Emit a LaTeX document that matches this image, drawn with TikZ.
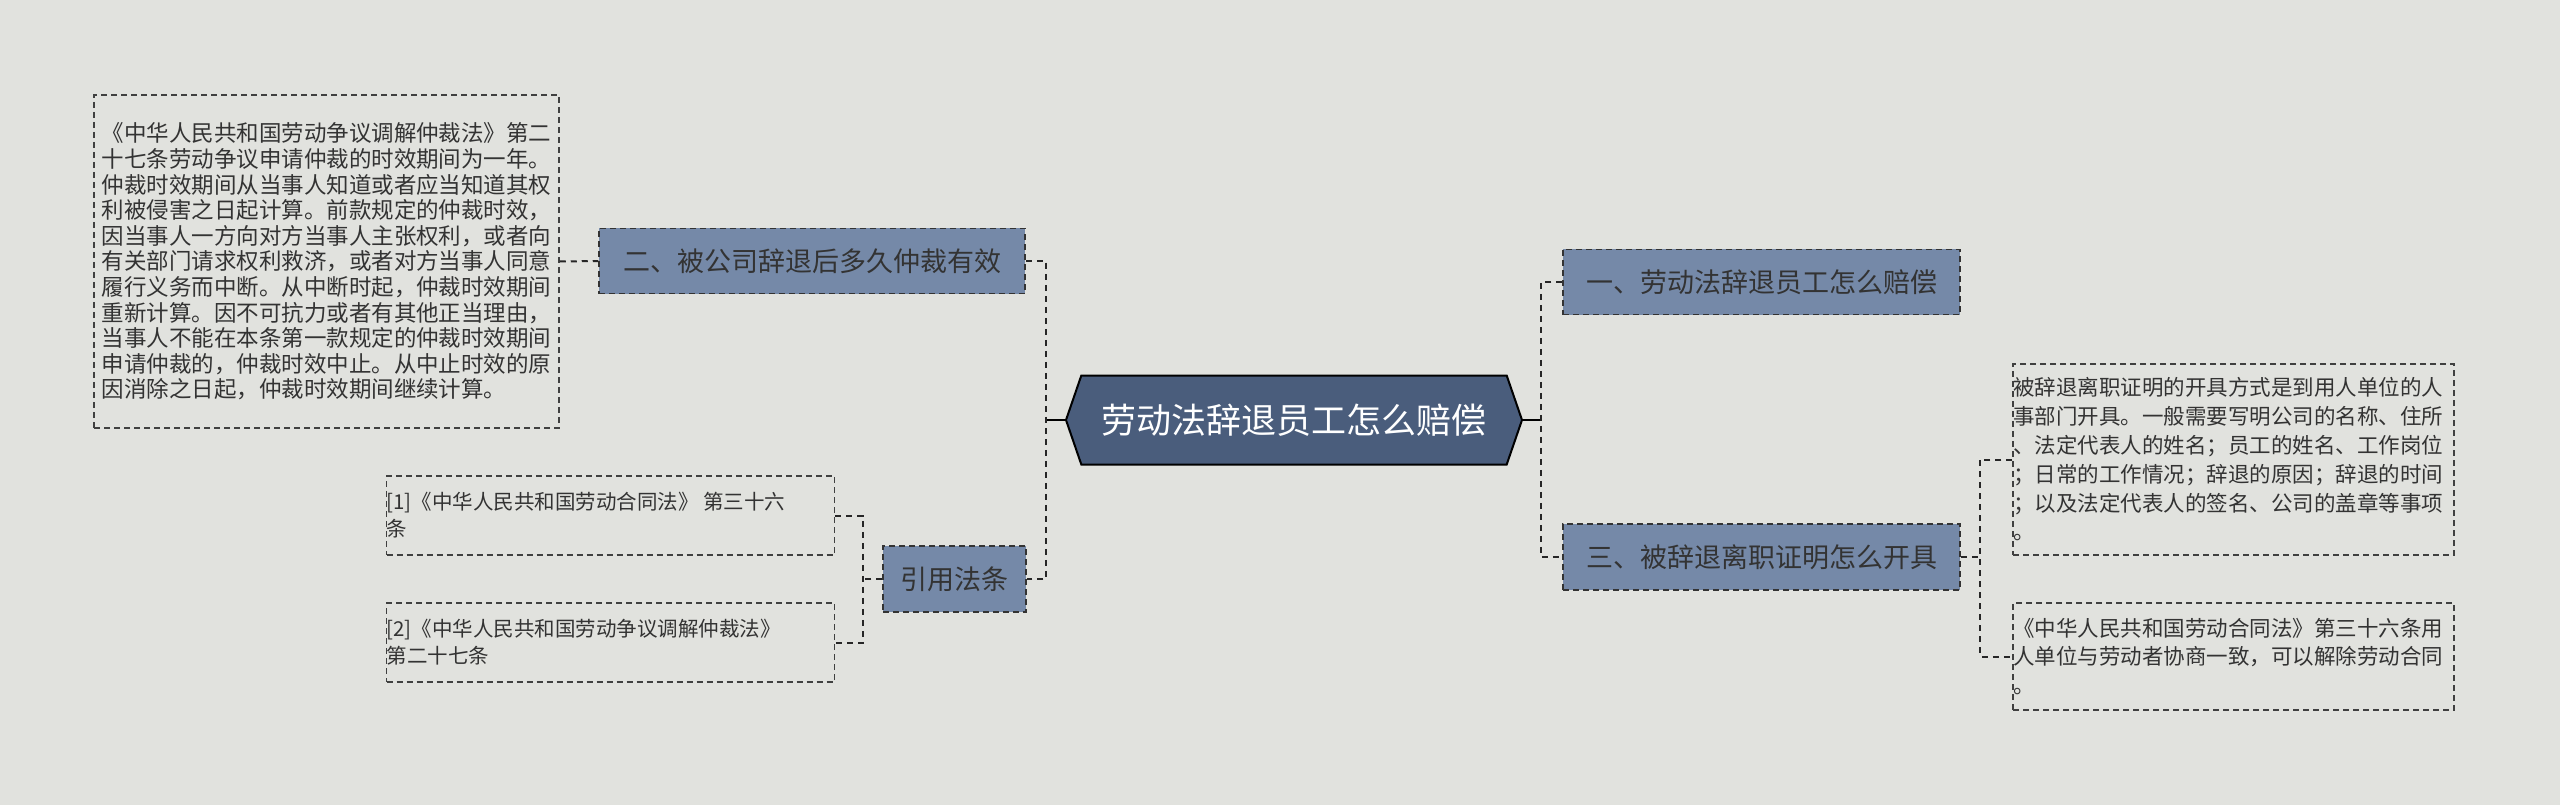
\documentclass[tikz,border=0pt]{standalone}
\usepackage{fontspec}
\setmainfont{Noto Sans CJK SC}
\usetikzlibrary{shapes.symbols}
\definecolor{bg}{HTML}{E1E2DE}
\definecolor{cfill}{HTML}{4A5D7C}
\definecolor{nfill}{HTML}{7589A8}
\definecolor{tcol}{HTML}{333333}
\tikzset{
  conn/.style={draw=black!85,line width=2pt,dash pattern=on 6pt off 5pt},
  topic/.style={draw=black!80,fill=nfill,line width=1.5pt,dash pattern=on 6pt off 4pt,inner sep=0pt,text=tcol,font=\fontsize{27}{32}\selectfont},
  leaf/.style={draw=black!75,line width=1.5pt,dash pattern=on 6pt off 4pt,inner sep=0pt,text=tcol,align=left},
}
\begin{document}
\begin{tikzpicture}[x=1pt,y=-1pt]
\fill[bg] (0,0) rectangle (2560,805);
\useasboundingbox (0,0) rectangle (2560,805);
% center
\node[signal,signal to=west and east,signal pointer angle=142,draw=black,line width=2pt,fill=cfill,text=white,minimum width=456pt,minimum height=89pt,inner sep=0pt,outer sep=0pt,font=\fontsize{35}{40}\selectfont] (c) at (1294,420) {劳动法辞退员工怎么赔偿};
% left topics
\node[topic,minimum width=426pt,minimum height=65pt] (l1) at (812,261) {二、被公司辞退后多久仲裁有效};
\node[topic,minimum width=143pt,minimum height=66pt] (l2) at (954.5,579) {引用法条};
% right topics
\node[topic,minimum width=397pt,minimum height=65pt] (r1) at (1761.5,282) {一、劳动法辞退员工怎么赔偿};
\node[topic,minimum width=397pt,minimum height=66pt] (r3) at (1761.5,557) {三、被辞退离职证明怎么开具};
% leaves
\node[leaf,minimum width=465pt,minimum height=333pt,font=\fontsize{22.5}{25.6}\selectfont] (t1) at (326.5,261.5) {《中华人民共和国劳动争议调解仲裁法》第二\\十七条劳动争议申请仲裁的时效期间为一年。\\仲裁时效期间从当事人知道或者应当知道其权\\利被侵害之日起计算。前款规定的仲裁时效，\\因当事人一方向对方当事人主张权利，或者向\\有关部门请求权利救济，或者对方当事人同意\\履行义务而中断。从中断时起，仲裁时效期间\\重新计算。因不可抗力或者有其他正当理由，\\当事人不能在本条第一款规定的仲裁时效期间\\申请仲裁的，仲裁时效中止。从中止时效的原\\因消除之日起，仲裁时效期间继续计算。};
\node[leaf,minimum height=79pt,font=\fontsize{20.5}{27}\selectfont] (a1) at (610.5,515.5) {\parbox{448pt}{\raggedright [1]《中华人民共和国劳动合同法》 第三十六\\条}};
\node[leaf,minimum height=79pt,font=\fontsize{20.5}{27}\selectfont] (a2) at (610.5,642.5) {\parbox{448pt}{\raggedright [2]《中华人民共和国劳动争议调解仲裁法》\\第二十七条}};
\node[leaf,minimum height=191pt,font=\fontsize{21.5}{28.8}\selectfont] (b1) at (2233.5,459.5) {\parbox{441pt}{\raggedright 被辞退离职证明的开具方式是到用人单位的人\\事部门开具。一般需要写明公司的名称、住所\\、法定代表人的姓名；员工的姓名、工作岗位\\；日常的工作情况；辞退的原因；辞退的时间\\；以及法定代表人的签名、公司的盖章等事项\\。}};
\node[leaf,minimum height=107pt,font=\fontsize{21.5}{28.8}\selectfont] (b2) at (2233.5,656.5) {\parbox{441pt}{\raggedright 《中华人民共和国劳动合同法》第三十六条用\\人单位与劳动者协商一致，可以解除劳动合同\\。}};
% trunk coordinates
\coordinate (tl) at (1046,420);
\coordinate (tr) at (1541,420);
\coordinate (ta) at (863,579);
\coordinate (tb) at (1980,557);
\draw[line width=2.5pt] (c.west) -- (tl);
\draw[line width=2.5pt] (c.east) -- (tr);
\draw[conn] (l1.east) -- (l1.east -| tl) -- (l2.east -| tl) -- (l2.east);
\draw[conn] (t1.east) -- (l1.west);
\draw[conn] (l2.west) -- (ta);
\draw[conn] (a1.east) -- (a1.east -| ta) -- (a2.east -| ta) -- (a2.east);
\draw[conn] (r1.west) -- (r1.west -| tr) -- (r3.west -| tr) -- (r3.west);
\draw[conn] (r3.east) -- (tb);
\draw[conn] (b1.west) -- (b1.west -| tb) -- (b2.west -| tb) -- (b2.west);
\end{tikzpicture}
\end{document}
